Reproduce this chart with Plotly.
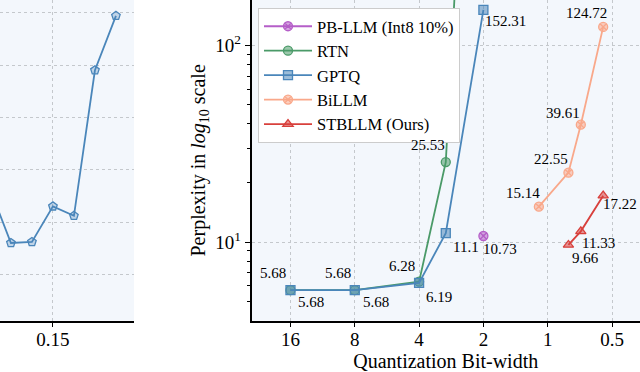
import plotly.graph_objects as go
import math

# ---- main chart data ----
pb_bits = [2]
pb_ppl = [10.73]
rtn_bits = [16, 8, 4, 3, 2]
rtn_ppl = [5.68, 5.68, 6.28, 25.53, 106000]
rtn_lbl = ["5.68", "5.68", "6.28", "25.53", ""]
gptq_bits = [16, 8, 4, 3, 2]
gptq_ppl = [5.68, 5.68, 6.19, 11.1, 152.31]
gptq_lbl = ["5.68", "5.68", "6.19", "11.1", "152.31"]
billm_bits = [1.1, 0.8, 0.7, 0.55]
billm_ppl = [15.14, 22.55, 39.61, 124.72]
stb_bits = [0.8, 0.7, 0.55]
stb_ppl = [9.66, 11.33, 17.22]
x_ticks = [16, 8, 4, 2, 1, 0.5]
x_tick_text = ["16", "8", "4", "2", "1", "0.5"]

# ---- left (partial) chart data ----
left_x = [0.12, 0.13, 0.14, 0.15, 0.16, 0.17, 0.18]
left_y = [7.82, 7.30, 7.31, 7.65, 7.56, 8.95, 9.47]

# label offsets in pixels (style only): centre of text relative to the point
pb_off = [(17, 13)]
rtn_off = [(-17, -17), (-17, -17), (-17, -16), (-18, -17), None]
gptq_off = [(21, 12), (21, 12), (20, 14), (20, 14), (22, 11)]
billm_off = [(-16, -14), (-17, -14), (-18, -12), (-17, -14)]
stb_off = [(17, 13), (18, 12), (17, 8)]

FONT = "Liberation Serif"
BG = "#f3f7fc"
GRID = "#c4c8cc"

C_PB = "#b55ec8"
C_RTN = "#4a9a68"
C_GPTQ = "#4a86ba"
C_BI = "#f9a88a"
C_STB = "#d8403c"

def rgba(hexc, a):
    h = hexc.lstrip("#")
    return f"rgba({int(h[0:2],16)},{int(h[2:4],16)},{int(h[4:6],16)},{a})"

fig = go.Figure()
annotations = []

def add(name, xs, ys, color, symbol, texts, offs):
    fig.add_trace(go.Scatter(
        x=xs, y=ys, name=name, mode="lines+markers",
        line=dict(color=color, width=1.8),
        marker=dict(symbol=symbol, size=9, color=rgba(color, 0.55),
                    line=dict(color=color, width=1.3)),
        xaxis="x", yaxis="y", cliponaxis=True))
    for xv, yv, t, o in zip(xs, ys, texts, offs):
        if not t or o is None:
            continue
        annotations.append(dict(
            x=math.log10(xv), y=math.log10(yv), xref="x", yref="y",
            text=t, showarrow=False, xanchor="center", yanchor="middle",
            xshift=o[0], yshift=-o[1],
            font=dict(family=FONT, size=15, color="black")))

add("PB-LLM (Int8 10%)", pb_bits, pb_ppl, C_PB, "circle-x",
    [f"{v}" for v in pb_ppl], pb_off)
add("RTN", rtn_bits, rtn_ppl, C_RTN, "circle", rtn_lbl, rtn_off)
add("GPTQ", gptq_bits, gptq_ppl, C_GPTQ, "square", gptq_lbl, gptq_off)
add("BiLLM", billm_bits, billm_ppl, C_BI, "circle-x",
    [f"{v}" for v in billm_ppl], billm_off)
add("STBLLM (Ours)", stb_bits, stb_ppl, C_STB, "triangle-up",
    [f"{v}" for v in stb_ppl], stb_off)

# left partial chart
fig.add_trace(go.Scatter(
    x=left_x, y=left_y, mode="lines+markers", showlegend=False,
    line=dict(color=C_GPTQ, width=1.8),
    marker=dict(symbol="pentagon", size=9, color=rgba(C_GPTQ, 0.3),
                line=dict(color=C_GPTQ, width=1.3)),
    xaxis="x2", yaxis="y2"))

W, H = 640, 372
left_px = 251.5
bottom_px, top_px = 320.7, 0

def log2r(l2):
    return l2 * math.log10(2)

TICKF = dict(family=FONT, size=19)
TITLEF = dict(family=FONT, size=20)

fig.update_layout(
    template="none",
    width=W, height=H,
    margin=dict(l=0, r=0, t=0, b=0, pad=0),
    paper_bgcolor="white",
    plot_bgcolor=BG,
    font=dict(family=FONT, size=18, color="black"),
    annotations=annotations,
    xaxis=dict(
        domain=[left_px / W, 1.0], anchor="y", automargin=False,
        type="log", range=[log2r(4.606), log2r(-1.435)],
        tickvals=x_ticks, ticktext=x_tick_text,
        ticks="outside", ticklen=5, tickcolor="black", tickwidth=1.2,
        ticklabelstandoff=-4,
        showline=True, linecolor="black", linewidth=1.5,
        showgrid=True, gridcolor=GRID, griddash="dot", gridwidth=1,
        zeroline=False,
        title=dict(text="Quantization Bit-width", standoff=0, font=TITLEF),
        tickfont=TICKF,
    ),
    yaxis=dict(
        domain=[1 - bottom_px / H, 1 - top_px / H], anchor="x", automargin=False,
        type="log", range=[0.599, 2.233],
        tickvals=[10, 100], ticktext=["10<sup>1</sup>", "10<sup>2</sup>"],
        ticks="outside", ticklen=5, tickcolor="black", tickwidth=1.2,
        minor=dict(tickvals=[5, 6, 7, 8, 9, 20, 30, 40, 50, 60, 70, 80, 90, 200],
                   ticks="outside", ticklen=3, tickcolor="black", showgrid=False),
        showline=True, linecolor="black", linewidth=1.5,
        showgrid=True, gridcolor=GRID, griddash="dot", gridwidth=1,
        zeroline=False,
        title=dict(text="Perplexity in <i>log</i><sub>10</sub> scale", standoff=4,
                   font=TITLEF),
        tickfont=TICKF,
    ),
    xaxis2=dict(
        domain=[0, 134 / W], anchor="y2", automargin=False,
        range=[0.1248, 0.1886],
        tickvals=[0.10, 0.15, 0.20], ticktext=["0.10", "0.15", "0.20"],
        ticks="outside", ticklen=5, tickcolor="black", tickwidth=1.2,
        ticklabelstandoff=-4,
        showline=True, linecolor="black", linewidth=1.5,
        showgrid=True, gridcolor=GRID, griddash="dot", gridwidth=1,
        zeroline=False, tickfont=TICKF,
    ),
    yaxis2=dict(
        domain=[1 - bottom_px / H, 1 - top_px / H], anchor="x2", automargin=False,
        range=[6.558, 9.621],
        tickvals=[7.0, 7.5, 8.0, 8.5, 9.0, 9.5],
        showticklabels=False, ticks="",
        showline=False,
        showgrid=True, gridcolor=GRID, griddash="dot", gridwidth=1,
        zeroline=False,
    ),
    legend=dict(
        x=258 / W, y=1 - 8 / H, xanchor="left", yanchor="top",
        bgcolor="white", bordercolor="#cccccc", borderwidth=1,
        font=dict(family=FONT, size=16.5, color="black"),
        tracegroupgap=0, itemwidth=48,
    ),
)

fig.write_html(
    "out.html",
    config={"displayModeBar": False},
    post_script="document.body.style.margin='0';document.body.style.overflow='hidden';",
)
